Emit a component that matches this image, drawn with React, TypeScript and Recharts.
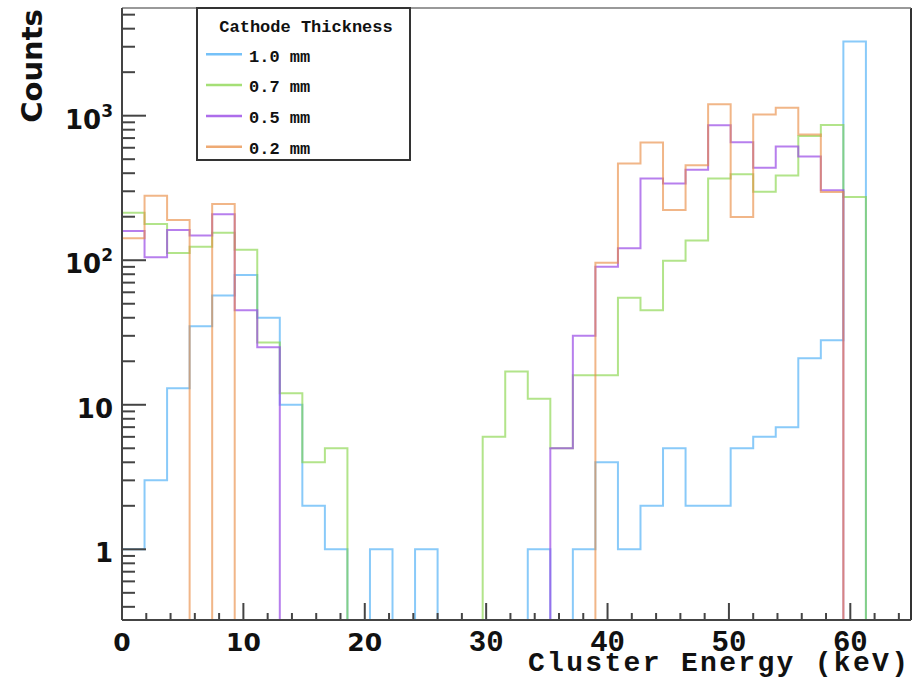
import React from "react";
import { LineChart, Line, XAxis, YAxis, ReferenceLine, Legend } from "recharts";

// histogram binning: 35 bins from 0 to 65 keV
const X_MAX = 65;
const N_BINS = 35;
const BIN_WIDTH = X_MAX / N_BINS;

// counts per bin (0 = empty bin)
const counts10mm = [1, 3, 13, 35, 57, 79, 40, 10, 2, 1, 0, 1, 0, 1, 0, 0, 0, 0, 1, 0, 1, 4, 1, 2, 5, 2, 2, 5, 6, 7, 21, 28, 3260, 0, 0];
const counts07mm = [213, 178, 112, 124, 155, 118, 27, 12, 4, 5, 0, 0, 0, 0, 0, 0, 6, 17, 11, 5, 16, 16, 55, 45, 99, 137, 367, 394, 298, 385, 725, 863, 274, 0, 0];
const counts05mm = [159, 105, 162, 148, 208, 45, 25, 0, 0, 0, 0, 0, 0, 0, 0, 0, 0, 0, 0, 5, 30, 90, 121, 367, 339, 422, 859, 656, 437, 611, 521, 305, 0, 0, 0];
const counts02mm = [142, 279, 190, 0, 245, 0, 0, 0, 0, 0, 0, 0, 0, 0, 0, 0, 0, 0, 0, 0, 0, 96, 466, 652, 223, 454, 1202, 199, 1018, 1133, 740, 296, 0, 0, 0];

const seriesKeys = ["t10", "t07", "t05", "t02"];
const seriesNames = ["1.0 mm", "0.7 mm", "0.5 mm", "0.2 mm"];
const seriesColors = ["#3aa6f5", "#7fd23c", "#9b4de6", "#e8893f"];
const seriesOpacity = [0.6, 0.6, 0.72, 0.62];

const xTicks = [0, 2, 4, 6, 8, 10, 12, 14, 16, 18, 20, 22, 24, 26, 28, 30, 32, 34, 36, 38, 40, 42, 44, 46, 48, 50, 52, 54, 56, 58, 60, 62, 64];
const yTicks = [0.4, 0.5, 0.6, 0.7, 0.8, 0.9, 1, 2, 3, 4, 5, 6, 7, 8, 9, 10, 20, 30, 40, 50, 60, 70, 80, 90, 100, 200, 300, 400, 500, 600, 700, 800, 900, 1000, 2000, 3000, 4000, 5000];

const Y_MIN = 0.3243;
const Y_MAX = 5560;
const FLOOR = 0.2; // empty bins are drawn down to the frame bottom

const SANS = "'DejaVu Sans', sans-serif";
const MONO = "'Liberation Mono', 'DejaVu Sans Mono', monospace";

const allCounts = [counts10mm, counts07mm, counts05mm, counts02mm];

// one row per bin edge, step line goes after the point
const data = Array.from({ length: N_BINS + 1 }, (_, i) => {
  const row: Record<string, number> = { x: i * BIN_WIDTH };
  seriesKeys.forEach((k, s) => {
    const v = allCounts[s][Math.min(i, N_BINS - 1)];
    row[k] = v > 0 ? v : FLOOR;
  });
  return row;
});

function YTick(props: any) {
  const { x, y, payload } = props;
  const v = payload.value;
  const lg = Math.log10(v);
  const major = Math.abs(lg - Math.round(lg)) < 1e-6;
  const exp = Math.round(lg);
  return (
    <g>
      <line x1={x} x2={x + (major ? 24 : 13)} y1={y} y2={y} stroke="#444" strokeWidth={2} />
      {major && (
        <text x={x - 9} y={y + 13} textAnchor="end" fontFamily={SANS} fontWeight="bold" fontSize={26} fill="#111">
          {exp <= 1 ? (
            String(v)
          ) : (
            <>
              <tspan>10</tspan>
              <tspan dy={-12} fontSize={17}>{exp}</tspan>
            </>
          )}
        </text>
      )}
    </g>
  );
}

function XTick(props: any) {
  const { x, y, payload } = props;
  const v = payload.value;
  const major = v % 10 === 0;
  const mono = v >= 30;
  return (
    <g>
      <line x1={x} x2={x} y1={y} y2={y - (major ? 17 : 7)} stroke="#444" strokeWidth={2} />
      {major && (
        <text x={x} y={y + 31} textAnchor="middle" fontFamily={mono ? MONO : SANS} fontWeight="bold" fontSize={mono ? 29 : 25} fill="#111">
          {v}
        </text>
      )}
    </g>
  );
}

function LegendBox() {
  return (
    <svg width={216} height={156} style={{ display: "block" }}>
      <rect x={1} y={1} width={213} height={152} fill="#fff" stroke="#333" strokeWidth={2} />
      <text x={110} y={25} textAnchor="middle" fontFamily={MONO} fontWeight="bold" fontSize={17} fill="#111">
        Cathode Thickness
      </text>
      {seriesNames.map((name, i) => (
        <g key={name}>
          <line x1={10} x2={46} y1={47.3 + i * 30.8} y2={47.3 + i * 30.8} stroke={seriesColors[i]} strokeOpacity={seriesOpacity[i] + 0.1} strokeWidth={2.5} />
          <text x={53} y={54.8 + i * 30.6} fontFamily={MONO} fontWeight="bold" fontSize={17} fill="#111">
            {name}
          </text>
        </g>
      ))}
    </svg>
  );
}

export default function App() {
  return (
    <div style={{ position: "absolute", left: 0, top: 0, width: 917, height: 691, background: "#fff" }}>
      <LineChart width={917} height={691} data={data} margin={{ top: 8, right: 6, bottom: 0, left: 0 }}>
        <XAxis
          dataKey="x"
          type="number"
          domain={[0, X_MAX]}
          ticks={xTicks}
          interval={0}
          height={71}
          tickSize={0}
          tickMargin={0}
          tickLine={false}
          tick={(p: any) => <XTick {...p} />}
          axisLine={{ stroke: "#444", strokeWidth: 2 }}
          allowDataOverflow
          label={() => (
            <text x={528} y={671} textLength={380} lengthAdjust="spacing" fontFamily={MONO} fontWeight="bold" fontSize={28} fill="#111">
              Cluster Energy (keV)
            </text>
          )}
        />
        <YAxis
          type="number"
          scale="log"
          domain={[Y_MIN, Y_MAX]}
          ticks={yTicks}
          interval={0}
          width={122}
          tickSize={0}
          tickMargin={0}
          tickLine={false}
          tick={(p: any) => <YTick {...p} />}
          axisLine={{ stroke: "#444", strokeWidth: 2 }}
          allowDataOverflow
          label={() => (
            <text x={42} y={66} transform="rotate(-90 42 66)" textAnchor="middle" fontFamily={SANS} fontWeight="bold" fontSize={29} fill="#111">
              Counts
            </text>
          )}
        />
        {seriesKeys.map((k, i) => (
          <Line
            key={k}
            dataKey={k}
            name={seriesNames[i]}
            type="stepAfter"
            stroke={seriesColors[i]}
            strokeOpacity={seriesOpacity[i]}
            strokeWidth={2}
            dot={false}
            activeDot={false}
            isAnimationActive={false}
          />
        ))}
        <ReferenceLine x={X_MAX} stroke="#333" strokeWidth={2} />
        <ReferenceLine y={Y_MAX} stroke="#777" strokeWidth={1.5} />
        <Legend
          verticalAlign="middle"
          align="center"
          layout="horizontal"
          content={() => <LegendBox />}
          wrapperStyle={{ left: 196, top: 7, width: 216, height: 156 }}
        />
      </LineChart>
    </div>
  );
}
